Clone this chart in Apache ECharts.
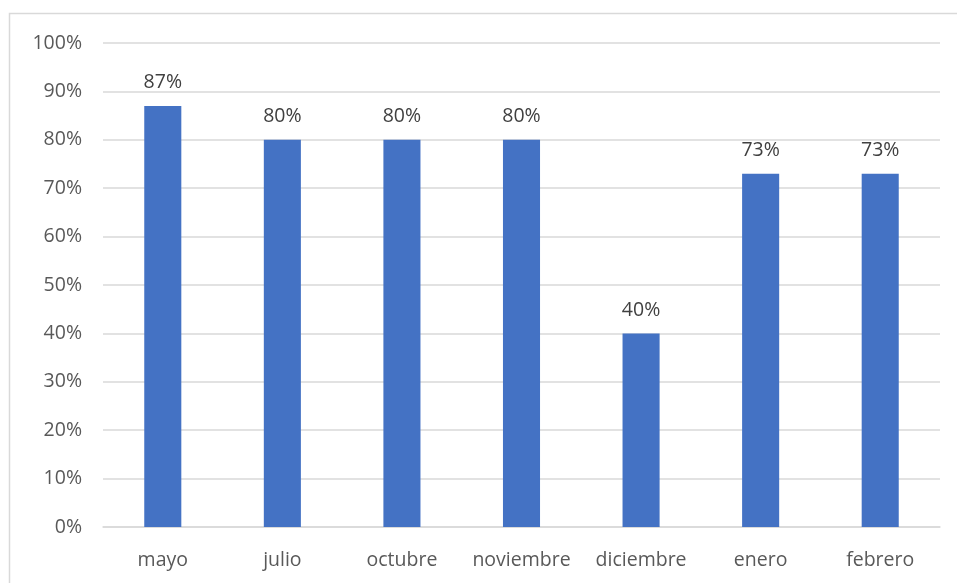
<!DOCTYPE html>
<html>
<head>
<meta charset="utf-8">
<script src="https://cdn.jsdelivr.net/npm/echarts@6/dist/echarts.min.js"></script>
<style>html,body{margin:0;padding:0;background:#fff}#c{width:957px;height:583px}</style>
</head>
<body>
<div id="c"></div>
<script>
const categories = ['mayo','julio','octubre','noviembre','diciembre','enero','febrero'];
const values = [87, 80, 80, 80, 40, 73, 73];
const yTicks = [0,10,20,30,40,50,60,70,80,90,100];

const chart = echarts.init(document.getElementById('c'), null, {renderer:'canvas'});
const font = '"Open Sans", "Noto Sans", sans-serif';
chart.setOption({
  animation: false,
  graphic: [{
    type: 'rect', shape: {x: 9.5, y: 13.5, width: 1200, height: 800},
    style: {fill: 'none', stroke: '#d9d9d9', lineWidth: 1.5}, silent: true
  }],
  grid: {left: 103, right: 17, top: 43, bottom: 56, containLabel: false},
  xAxis: {
    type: 'category', data: categories,
    axisLine: {lineStyle: {color: '#d9d9d9', width: 1.5}},
    axisTick: {show: false},
    axisLabel: {color: '#595959', fontSize: 19.5, fontFamily: font, margin: 23,
      interval: 0, hideOverlap: false}
  },
  yAxis: {
    type: 'value', min: 0, max: 100, interval: 10,
    axisLine: {show: false}, axisTick: {show: false},
    splitLine: {lineStyle: {color: '#d9d9d9', width: 1.5}},
    axisLabel: {color: '#595959', fontSize: 19.5, fontFamily: font, margin: 21,
      formatter: v => yTicks.includes(v) ? v + '%' : ''}
  },
  series: [{
    type: 'bar', data: values, barWidth: '31%',
    itemStyle: {color: '#4472c4'},
    label: {show: true, position: 'top', distance: 13, color: '#404040',
      fontSize: 19.5, fontFamily: font, formatter: p => p.value + '%'}
  }]
});
</script>
</body>
</html>
